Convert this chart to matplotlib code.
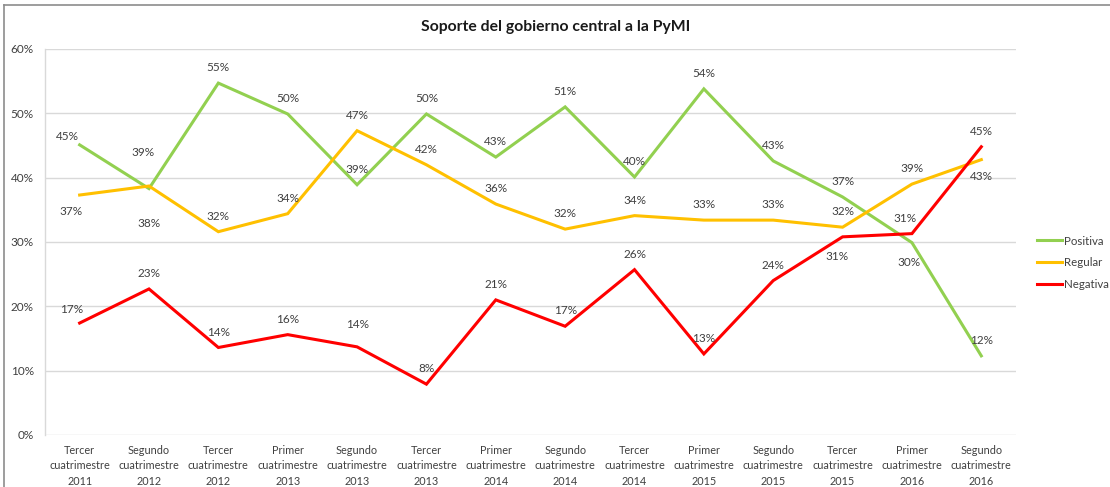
import matplotlib
matplotlib.use("Agg")
import matplotlib.pyplot as plt
from matplotlib.lines import Line2D
from matplotlib.ticker import FuncFormatter, MultipleLocator

# Survey periods (cuatrimestres)
periods = [
    "Tercer\ncuatrimestre\n2011", "Segundo\ncuatrimestre\n2012", "Tercer\ncuatrimestre\n2012",
    "Primer\ncuatrimestre\n2013", "Segundo\ncuatrimestre\n2013", "Tercer\ncuatrimestre\n2013",
    "Primer\ncuatrimestre\n2014", "Segundo\ncuatrimestre\n2014", "Tercer\ncuatrimestre\n2014",
    "Primer\ncuatrimestre\n2015", "Segundo\ncuatrimestre\n2015", "Tercer\ncuatrimestre\n2015",
    "Primer\ncuatrimestre\n2016", "Segundo\ncuatrimestre\n2016",
]

# Share of responses (%)
positiva = [45.1, 38.3, 54.7, 49.9, 38.9, 49.9, 43.2, 51.0, 40.1, 53.8, 42.6, 37.0, 29.9, 12.3]
regular = [37.3, 38.7, 31.6, 34.4, 47.3, 42.0, 35.9, 32.0, 34.1, 33.4, 33.4, 32.3, 39.0, 42.8]
negativa = [17.4, 22.7, 13.6, 15.6, 13.7, 7.9, 21.0, 16.9, 25.7, 12.6, 24.0, 30.8, 31.3, 44.8]

GREEN = "#92D050"
YELLOW = "#FFC000"
RED = "#FF0000"
TEXT = "#404040"
FONT = ["Lato", "DejaVu Sans"]

plt.rcParams["font.family"] = FONT

fig = plt.figure(figsize=(11.10, 4.87), dpi=100)
ax = fig.add_axes([0.0405, 0.1068, 0.8748, 0.7926])

x = list(range(len(periods)))
series = [
    ("Positiva", positiva, GREEN),
    ("Regular", regular, YELLOW),
    ("Negativa", negativa, RED),
]
for name, vals, col in series:
    ax.plot(x, vals, color=col, lw=2.2, solid_joinstyle="miter", zorder=3)

# Label offsets in points (dx, dy); default is just above the point
default = (0, 11)
overrides = {
    ("Positiva", 0): (-9, 6),
    ("Positiva", 1): (0, -25),
    ("Positiva", 12): (-2, -14),
    ("Regular", 0): (-6, -12),
    ("Regular", 1): (-4, 24),
    ("Regular", 13): (0, -12),
    ("Negativa", 0): (-6, 10),
    ("Negativa", 4): (0, 16),
    ("Negativa", 11): (-4, -14),
    ("Negativa", 12): (-5, 11),
}

for name, vals, col in series:
    for i, v in enumerate(vals):
        dx, dy = overrides.get((name, i), default)
        ax.annotate(f"{v:.0f}%", (i, v), xytext=(dx, dy), textcoords="offset points",
                    ha="center", va="center", fontsize=8.5, color=TEXT, zorder=4)

ax.set_xlim(-0.5, len(periods) - 0.5)
ax.set_ylim(0, 60)
ax.yaxis.set_major_locator(MultipleLocator(10))
ax.yaxis.set_major_formatter(FuncFormatter(lambda v, p: f"{v:.0f}%"))
ax.grid(axis="y", color="#D9D9D9", lw=1, zorder=0)
ax.set_axisbelow(True)
for s in ["top", "right", "bottom"]:
    ax.spines[s].set_visible(False)
ax.spines["left"].set_color("#D9D9D9")
ax.spines["left"].set_linewidth(1)
ax.tick_params(axis="y", length=0, pad=8, labelsize=8.5, labelcolor=TEXT)
ax.set_xticks(x)
ax.set_xticklabels(periods, fontsize=7.8, color=TEXT, linespacing=1.5)
ax.tick_params(axis="x", length=0, pad=7)

fig.text(0.501, 0.944, "Soporte del gobierno central a la PyMI", ha="center", va="center",
         fontsize=11.3, fontweight="bold", color="#1a1a1a")

handles = [Line2D([], [], color=c, lw=2.2) for _, _, c in series]
leg = fig.legend(handles, [n for n, _, _ in series], loc="center left",
                 bbox_to_anchor=(0.925, 0.46), frameon=False, fontsize=8.3,
                 handlelength=2.2, handletextpad=0.1, labelspacing=0.95)
for t in leg.get_texts():
    t.set_color(TEXT)

# outer chart frame (top and left edges visible)
fig.add_artist(Line2D([0.0036, 1.0], [0.9897, 0.9897], transform=fig.transFigure,
                      color="#8C8C8C", lw=1.2))
fig.add_artist(Line2D([0.0036, 0.0036], [0.0, 0.9897], transform=fig.transFigure,
                      color="#8C8C8C", lw=1.2))

fig.savefig("out.png", dpi=100, facecolor="white")
